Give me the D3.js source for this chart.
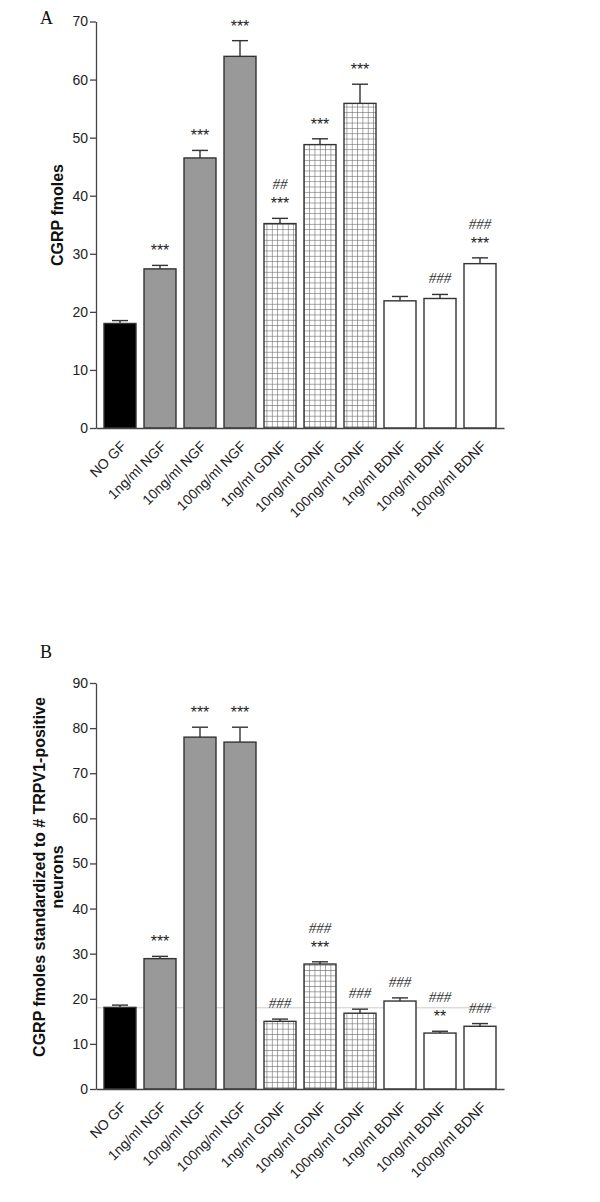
<!DOCTYPE html>
<html lang="en">
<head>
<meta charset="utf-8">
<script src="https://d3js.org/d3.v7.min.js"></script>
<style>
body { margin: 0; background: #fff; }
.axis path, .axis line { stroke: #444; stroke-width: 1.3; }
.axis text { font-family: "Liberation Sans", Arial, sans-serif; font-size: 14px; fill: #222; }
.xlab { font-family: "Liberation Sans", Arial, sans-serif; font-size: 14px; fill: #222; }
.ylab { font-family: "Liberation Sans", Arial, sans-serif; font-size: 16px; font-weight: bold; fill: #111; }
.panel { font-family: "Liberation Serif", "Times New Roman", serif; font-size: 18px; fill: #111; }
.bar { stroke: #333; stroke-width: 1.4; }
.err { stroke: #333; stroke-width: 1.4; fill: none; }
.stars { font-family: "Liberation Sans", Arial, sans-serif; font-size: 16px; fill: #222; text-anchor: middle; }
.hash { font-family: "Liberation Serif", "Times New Roman", serif; font-style: italic; font-size: 15px; fill: #333; text-anchor: middle; }
</style>
</head>
<body>
<div id="chart"></div>
<script>
var categories = ["NO GF", "1ng/ml NGF", "10ng/ml NGF", "100ng/ml NGF",
    "1ng/ml GDNF", "10ng/ml GDNF", "100ng/ml GDNF",
    "1ng/ml BDNF", "10ng/ml BDNF", "100ng/ml BDNF"];
var groups = ["none", "NGF", "NGF", "NGF", "GDNF", "GDNF", "GDNF", "BDNF", "BDNF", "BDNF"];

// panel A: CGRP fmoles
var meansA = [18.0, 27.4, 46.5, 64.0, 35.2, 48.8, 55.9, 21.9, 22.3, 28.3];
var semA   = [0.5, 0.6, 1.3, 2.7, 0.9, 1.0, 3.3, 0.75, 0.7, 1.0];
var starsA = ["", "***", "***", "***", "***", "***", "***", "", "", "***"];
var hashA  = ["", "", "", "", "##", "", "", "", "###", "###"];
var ticksA = [0, 10, 20, 30, 40, 50, 60, 70];

// panel B: standardized to # TRPV1-positive neurons
var meansB = [18.1, 28.9, 78.0, 76.9, 15.0, 27.7, 16.8, 19.5, 12.4, 13.9];
var semB   = [0.5, 0.5, 2.2, 3.3, 0.5, 0.5, 0.9, 0.7, 0.4, 0.6];
var starsB = ["", "***", "***", "***", "", "***", "", "", "**", ""];
var hashB  = ["", "", "", "", "###", "###", "###", "###", "###", "###"];
var ticksB = [0, 10, 20, 30, 40, 50, 60, 70, 80, 90];
var refLineB = 18;

var width = 600, height = 1202;

var svg = d3.select("#chart").append("svg")
    .attr("width", width)
    .attr("height", height);

svg.append("rect").attr("width", width).attr("height", height).attr("fill", "#fff");

var defs = svg.append("defs");
var cell = 5.33;
var pat = defs.append("pattern")
    .attr("id", "grid")
    .attr("patternUnits", "userSpaceOnUse")
    .attr("width", cell)
    .attr("height", cell);
pat.append("rect").attr("width", cell).attr("height", cell).attr("fill", "#fff");
pat.append("path")
    .attr("d", "M0,0.3H" + cell + "M0.3,0V" + cell)
    .attr("stroke", "#666")
    .attr("stroke-width", 0.7);

var x = d3.scaleBand()
    .domain(categories)
    .range([96, 504])
    .paddingInner(0.2)
    .paddingOuter(0.2);

function fillFor(g) {
    if (g === "none") return "#000";
    if (g === "NGF") return "#999";
    if (g === "GDNF") return "url(#grid)";
    return "#fff";
}

function drawPanel(o) {
    var y = d3.scaleLinear().domain([0, o.max]).range([o.y0, o.y1]);
    var g = svg.append("g");

    var rows = categories.map(function (c, i) {
        return {cat: c, grp: groups[i], mean: o.means[i], sem: o.sem[i], stars: o.stars[i], hash: o.hash[i]};
    });

    if (o.refLine != null) {
        g.append("line")
            .attr("x1", 96).attr("x2", 496)
            .attr("y1", y(o.refLine)).attr("y2", y(o.refLine))
            .attr("stroke", "#ccc").attr("stroke-width", 1);
    }

    // error bars (upper only)
    var err = g.selectAll(".errg").data(rows).enter().append("g");
    err.append("line").attr("class", "err")
        .attr("x1", function (d) { return x(d.cat) + x.bandwidth() / 2; })
        .attr("x2", function (d) { return x(d.cat) + x.bandwidth() / 2; })
        .attr("y1", function (d) { return y(d.mean); })
        .attr("y2", function (d) { return y(d.mean + d.sem); });
    err.append("line").attr("class", "err")
        .attr("x1", function (d) { return x(d.cat) + x.bandwidth() / 2 - 8; })
        .attr("x2", function (d) { return x(d.cat) + x.bandwidth() / 2 + 8; })
        .attr("y1", function (d) { return y(d.mean + d.sem); })
        .attr("y2", function (d) { return y(d.mean + d.sem); });

    g.selectAll(".bar").data(rows).enter().append("rect")
        .attr("class", "bar")
        .attr("x", function (d) { return x(d.cat); })
        .attr("width", x.bandwidth())
        .attr("y", function (d) { return y(d.mean); })
        .attr("height", function (d) { return y(0) - y(d.mean); })
        .attr("fill", function (d) { return fillFor(d.grp); });

    // significance marks
    g.selectAll(".stars").data(rows.filter(function (d) { return d.stars; })).enter().append("text")
        .attr("class", "stars")
        .attr("x", function (d) { return x(d.cat) + x.bandwidth() / 2; })
        .attr("y", function (d) { return y(d.mean + d.sem) - 9; })
        .text(function (d) { return d.stars; });
    g.selectAll(".hash").data(rows.filter(function (d) { return d.hash; })).enter().append("text")
        .attr("class", "hash")
        .attr("x", function (d) { return x(d.cat) + x.bandwidth() / 2; })
        .attr("y", function (d) { return y(d.mean + d.sem) - (d.stars ? 29 : 11); })
        .text(function (d) { return d.hash; });

    g.append("g").attr("class", "axis")
        .attr("transform", "translate(96,0)")
        .call(d3.axisLeft(y).tickValues(o.ticks).tickSize(6).tickPadding(2).tickSizeOuter(0));

    var xa = g.append("g").attr("class", "axis")
        .attr("transform", "translate(0," + y(0) + ")")
        .call(d3.axisBottom(x).tickSize(0).tickSizeOuter(0));
    xa.selectAll("text").remove();

    g.selectAll(".xlab").data(categories).enter().append("text")
        .attr("class", "xlab")
        .attr("text-anchor", "end")
        .attr("transform", function (d) {
            return "translate(" + (x(d) + x.bandwidth() / 2 + 7) + "," + (y(0) + 19) + ") rotate(-45)";
        })
        .text(function (d) { return d; });

    var yl = g.append("text")
        .attr("class", "ylab")
        .attr("text-anchor", "middle")
        .attr("transform", "translate(" + o.labelX + "," + o.labelY + ") rotate(-90)");
    o.label.forEach(function (line, i) {
        yl.append("tspan").attr("x", 0).attr("dy", i ? 18 : 0).text(line);
    });

    g.append("text").attr("class", "panel")
        .attr("x", 40).attr("y", o.letterY)
        .text(o.letter);
}

drawPanel({
    means: meansA, sem: semA, stars: starsA, hash: hashA, ticks: ticksA,
    max: 70, y0: 428, y1: 21.5,
    label: ["CGRP fmoles"], labelX: 63, labelY: 215,
    letter: "A", letterY: 24
});

drawPanel({
    means: meansB, sem: semB, stars: starsB, hash: hashB, ticks: ticksB,
    max: 90, y0: 1089, y1: 683, refLine: refLineB,
    label: ["CGRP fmoles standardized to # TRPV1-positive", "neurons"], labelX: 45, labelY: 877,
    letter: "B", letterY: 658
});
</script>
</body>
</html>
